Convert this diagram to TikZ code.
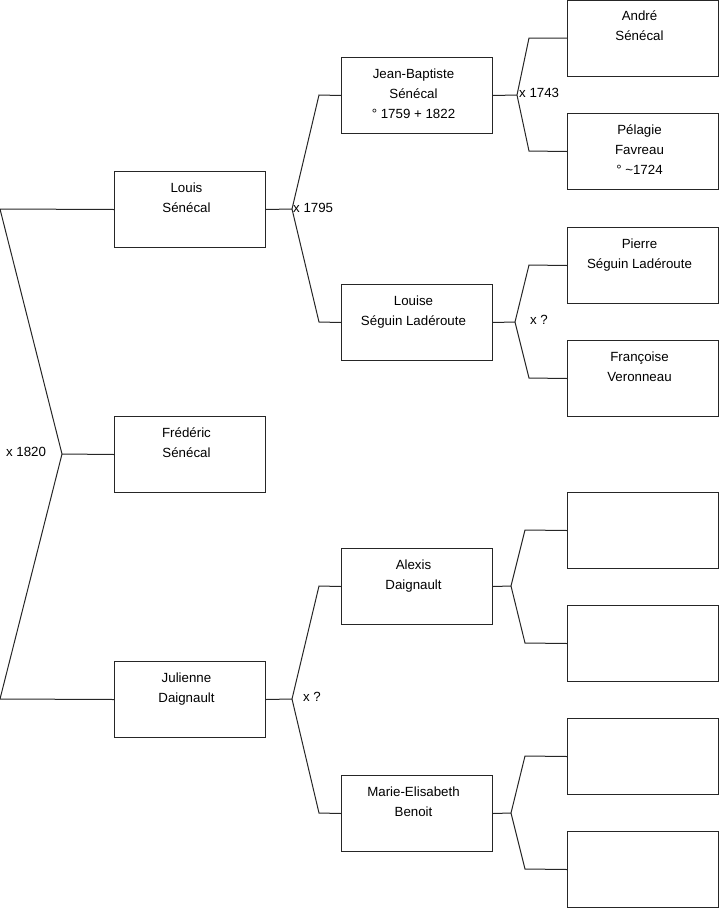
\documentclass[tikz,border=0pt]{standalone}
\usepackage{fontspec}
\setmainfont{Liberation Sans}
\begin{document}
\begin{tikzpicture}[x=1pt,y=-1pt]
\tikzset{
  box/.style={draw=black!85, line width=1pt, minimum width=151pt, minimum height=76pt, inner sep=0pt, anchor=north west},
  txt/.style={font=\fontsize{13.3}{20}\selectfont, align=center, inner sep=0pt, anchor=north, text=black},
  link/.style={draw=black!85, line width=1pt},
  lbl/.style={font=\fontsize{13.3}{15}\selectfont, inner sep=0pt, text=black}
}
\useasboundingbox (0,0) rectangle (719,908);
% boxes
\node[box] (louis) at (114,171) {};
\node[box] (fred) at (114,416) {};
\node[box] (jul) at (114,661) {};
\node[box] (jb) at (341,57) {};
\node[box] (louise) at (341,284) {};
\node[box] (alexis) at (341,548) {};
\node[box] (marie) at (341,775) {};
\node[box] (andre) at (567,-0.5) {};
\node[box] (pelagie) at (567,113) {};
\node[box] (pierre) at (567,227) {};
\node[box] (francoise) at (567,340) {};
\node[box] (e1) at (567,492) {};
\node[box] (e2) at (567,605) {};
\node[box] (e3) at (567,718) {};
\node[box] (e4) at (567,831) {};
% texts
\tikzset{tshift/.style={xshift=-3.5pt, yshift=-11.6pt}}
\node[txt] (louist) at ([tshift]louis.north) {Louis\\Sénécal};
\node[txt] (fredt) at ([tshift]fred.north) {Frédéric\\Sénécal};
\node[txt] (jult) at ([tshift]jul.north) {Julienne\\Daignault};
\node[txt] (jbt) at ([tshift]jb.north) {Jean-Baptiste\\Sénécal\\° 1759 + 1822};
\node[txt] (louiset) at ([tshift]louise.north) {Louise\\Séguin Ladéroute};
\node[txt] (alexist) at ([tshift]alexis.north) {Alexis\\Daignault};
\node[txt] (mariet) at ([tshift]marie.north) {Marie-Elisabeth\\Benoit};
\node[txt] (andret) at ([tshift,yshift=0.5pt]andre.north) {André\\Sénécal};
\node[txt] (pelagiet) at ([tshift]pelagie.north) {Pélagie\\Favreau\\° \textasciitilde1724};
\node[txt] (pierret) at ([tshift]pierre.north) {Pierre\\Séguin Ladéroute};
\node[txt] (francoiset) at ([tshift]francoise.north) {Françoise\\Veronneau};
% junction coordinates
\coordinate (r1) at (0,209);
\coordinate (r0) at (62,454);
\coordinate (r2) at (0,699);
\coordinate (a0) at (292,209);
\coordinate (a1) at (319,95);
\coordinate (a2) at (319,322);
\coordinate (b0) at (292,699);
\coordinate (b1) at (319,586);
\coordinate (b2) at (319,813);
\coordinate (c0) at (517,95);
\coordinate (c1) at (529,38);
\coordinate (c2) at (529,151);
\coordinate (d0) at (515,322);
\coordinate (d1) at (529,265);
\coordinate (d2) at (529,378);
\coordinate (f0) at (511,586);
\coordinate (f1) at (525,530);
\coordinate (f2) at (525,643);
\coordinate (g0) at (511,813);
\coordinate (g1) at (525,756);
\coordinate (g2) at (525,869);
% connectors
\draw[link] (louis.west) -- (r1) -- (r0) -- (r2) -- (jul.west);
\draw[link] (r0) -- (fred.west);
\draw[link] (louis.east) -- (a0);
\draw[link] (jb.west) -- (a1) -- (a0) -- (a2) -- (louise.west);
\draw[link] (jul.east) -- (b0);
\draw[link] (alexis.west) -- (b1) -- (b0) -- (b2) -- (marie.west);
\draw[link] (jb.east) -- (c0);
\draw[link] (andre.west |- c1) -- (c1) -- (c0) -- (c2) -- (pelagie.west);
\draw[link] (louise.east) -- (d0);
\draw[link] (pierre.west) -- (d1) -- (d0) -- (d2) -- (francoise.west);
\draw[link] (alexis.east) -- (f0);
\draw[link] (e1.west) -- (f1) -- (f0) -- (f2) -- (e2.west);
\draw[link] (marie.east) -- (g0);
\draw[link] (e3.west) -- (g1) -- (g0) -- (g2) -- (e4.west);
% marriage labels
\node[lbl, anchor=center] (m1820) at (26,452) {x 1820};
\node[lbl, anchor=west] (m1795) at (293,208) {x 1795};
\node[lbl, anchor=west] (m1743) at (519,93) {x 1743};
\node[lbl, anchor=center] (mq1) at (539,320) {x ?};
\node[lbl, anchor=center] (mq2) at (312,697) {x ?};
\end{tikzpicture}
\end{document}
